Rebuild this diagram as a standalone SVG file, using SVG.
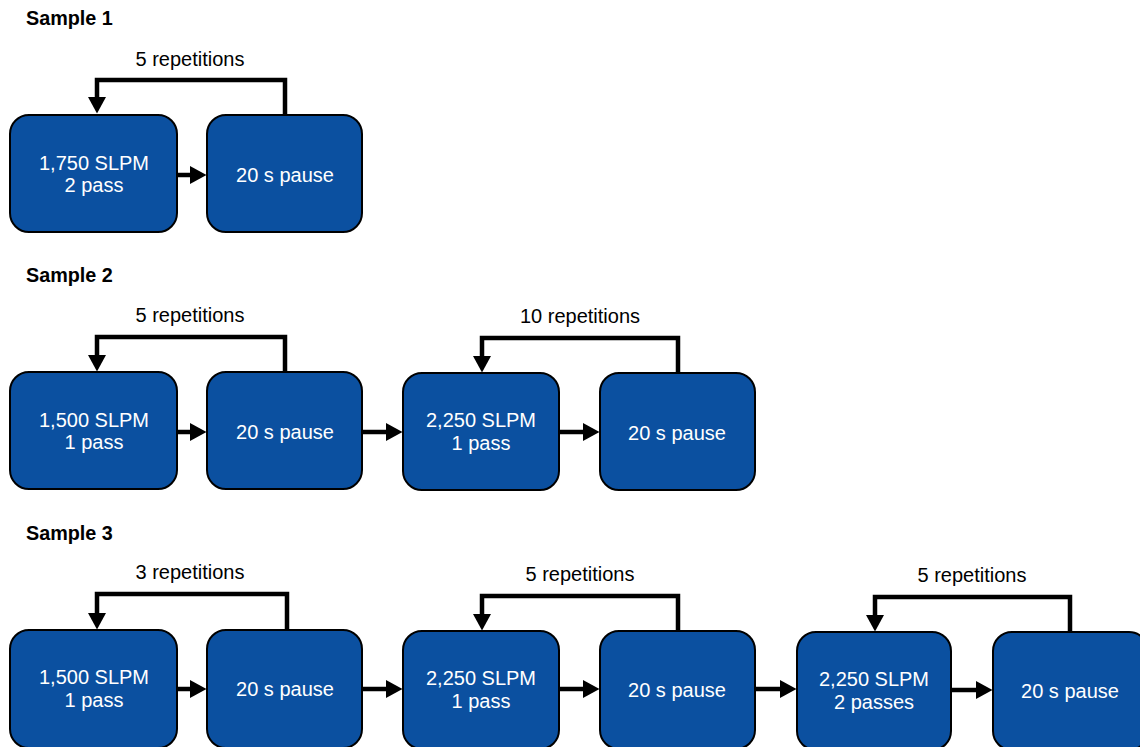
<svg xmlns="http://www.w3.org/2000/svg" width="1140" height="747" viewBox="0 0 1140 747">
<style>
.title{font-family:"Liberation Sans",Arial,sans-serif;font-weight:bold;font-size:19.8px;fill:#000}
.lbl{font-family:"Liberation Sans",Arial,sans-serif;font-size:20px;fill:#000;text-anchor:middle}
.box{fill:#0b50a0;stroke:#000;stroke-width:2}
.bt{font-family:"Liberation Sans",Arial,sans-serif;font-size:20px;fill:#fff;text-anchor:middle}
.con{fill:none;stroke:#000;stroke-width:4.5;stroke-linejoin:miter}
</style>
<defs>
<marker id="ah" markerUnits="userSpaceOnUse" markerWidth="17" markerHeight="18" refX="0" refY="9" orient="auto" viewBox="0 0 17 18">
<path d="M0,0 L16.5,9 L0,18 Z" fill="#000"/>
</marker>
</defs>
<rect width="1140" height="747" fill="#fff"/>
<text class="title" x="26" y="25">Sample 1</text>
<text class="title" x="26" y="282">Sample 2</text>
<text class="title" x="26" y="540">Sample 3</text>
<text class="lbl" x="190" y="66">5 repetitions</text>
<text class="lbl" x="190" y="322">5 repetitions</text>
<text class="lbl" x="580" y="323">10 repetitions</text>
<text class="lbl" x="190" y="579">3 repetitions</text>
<text class="lbl" x="580" y="581">5 repetitions</text>
<text class="lbl" x="972" y="582">5 repetitions</text>
<g id="connectors">
<path class="con" d="M285,115 V80 H97 V97" marker-end="url(#ah)"/>
<path class="con" d="M177,175 H190" marker-end="url(#ah)"/>
<path class="con" d="M285,372 V337 H97 V355" marker-end="url(#ah)"/>
<path class="con" d="M678,373 V338 H482 V356" marker-end="url(#ah)"/>
<path class="con" d="M177,432 H190" marker-end="url(#ah)"/>
<path class="con" d="M362,432 H386" marker-end="url(#ah)"/>
<path class="con" d="M559,432 H583" marker-end="url(#ah)"/>
<path class="con" d="M287,630 V594 H97 V613" marker-end="url(#ah)"/>
<path class="con" d="M678,631 V596 H482 V614" marker-end="url(#ah)"/>
<path class="con" d="M1070,632 V597 H875 V615" marker-end="url(#ah)"/>
<path class="con" d="M177,689 H190" marker-end="url(#ah)"/>
<path class="con" d="M362,689 H386" marker-end="url(#ah)"/>
<path class="con" d="M559,689 H583" marker-end="url(#ah)"/>
<path class="con" d="M755,689 H780" marker-end="url(#ah)"/>
<path class="con" d="M951,690 H976" marker-end="url(#ah)"/>
</g>
<g id="s1n1"><rect class="box" x="10" y="115" width="167" height="117" rx="19"/><text class="bt" x="94" y="170">1,750 SLPM</text><text class="bt" x="94" y="192">2 pass</text></g>
<g id="s1n2"><rect class="box" x="207" y="115" width="155" height="117" rx="19"/><text class="bt" x="285" y="182">20 s pause</text></g>
<g id="s2n1"><rect class="box" x="10" y="372" width="167" height="117" rx="19"/><text class="bt" x="94" y="427">1,500 SLPM</text><text class="bt" x="94" y="449">1 pass</text></g>
<g id="s2n2"><rect class="box" x="207" y="372" width="155" height="117" rx="19"/><text class="bt" x="285" y="439">20 s pause</text></g>
<g id="s2n3"><rect class="box" x="403" y="373" width="156" height="117" rx="19"/><text class="bt" x="481" y="427">2,250 SLPM</text><text class="bt" x="481" y="450">1 pass</text></g>
<g id="s2n4"><rect class="box" x="600" y="373" width="155" height="117" rx="19"/><text class="bt" x="677" y="440">20 s pause</text></g>
<g id="s3n1"><rect class="box" x="10" y="630" width="167" height="118" rx="19"/><text class="bt" x="94" y="684">1,500 SLPM</text><text class="bt" x="94" y="707">1 pass</text></g>
<g id="s3n2"><rect class="box" x="207" y="630" width="155" height="118" rx="19"/><text class="bt" x="285" y="696">20 s pause</text></g>
<g id="s3n3"><rect class="box" x="403" y="631" width="156" height="118" rx="19"/><text class="bt" x="481" y="685">2,250 SLPM</text><text class="bt" x="481" y="708">1 pass</text></g>
<g id="s3n4"><rect class="box" x="600" y="631" width="155" height="118" rx="19"/><text class="bt" x="677" y="697">20 s pause</text></g>
<g id="s3n5"><rect class="box" x="797" y="632" width="154" height="118" rx="19"/><text class="bt" x="874" y="686">2,250 SLPM</text><text class="bt" x="874" y="709">2 passes</text></g>
<g id="s3n6"><rect class="box" x="993" y="632" width="155" height="118" rx="19"/><text class="bt" x="1070" y="698">20 s pause</text></g>
</svg>
